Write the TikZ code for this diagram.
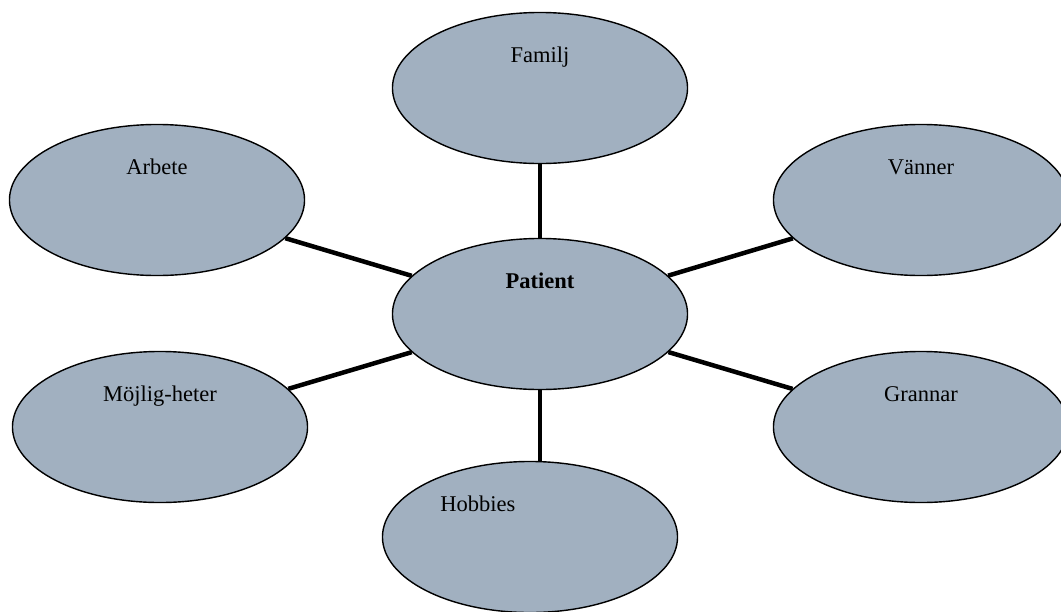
\documentclass[tikz,border=0pt]{standalone}
\usepackage{fontspec}
\setmainfont{Liberation Serif}
\usetikzlibrary{shapes.geometric}
\definecolor{bubblefill}{RGB}{161,176,192}
\tikzset{
  bubble/.style={
    ellipse,
    draw=black,
    line width=1pt,
    fill=bubblefill,
    minimum width=7.375cm,
    minimum height=3.775cm,
    inner sep=0pt
  },
  tag/.style={
    font=\fontsize{16}{19}\selectfont,
    text=black,
    text height=1.5ex,
    text depth=.25ex,
    yshift=.74cm
  },
  link/.style={
    line width=3.2pt,
    draw=black
  }
}
\begin{document}
\begin{tikzpicture}[x=0.025cm,y=-0.025cm]
  \useasboundingbox (0,0) rectangle (1061,612);
  \node[bubble,label={[tag]center:\textbf{Patient}}] (patient) at (540,314) {};
  \node[bubble,label={[tag]center:Familj}]       (familj)  at (540,88)  {};
  \node[bubble,label={[tag]center:Arbete}]       (arbete)  at (157,200) {};
  \node[bubble,label={[tag]center:Vänner}]       (vanner)  at (921,200) {};
  \node[bubble,label={[tag]center:Möjlig-heter}] (mojlig)  at (160,427) {};
  \node[bubble,label={[tag]center:Grannar}]      (grannar) at (921,427) {};
  \node[bubble,label={[tag,xshift=-1.3cm]center:Hobbies}] (hobbies) at (530,537) {};

  \draw[link] (patient) -- (familj);
  \draw[link] (patient) -- (arbete);
  \draw[link] (patient) -- (vanner);
  \draw[link] (patient) -- (mojlig);
  \draw[link] (patient) -- (grannar);
  \draw[link] (patient.south) -- (patient.south |- hobbies.north);
\end{tikzpicture}
\end{document}
